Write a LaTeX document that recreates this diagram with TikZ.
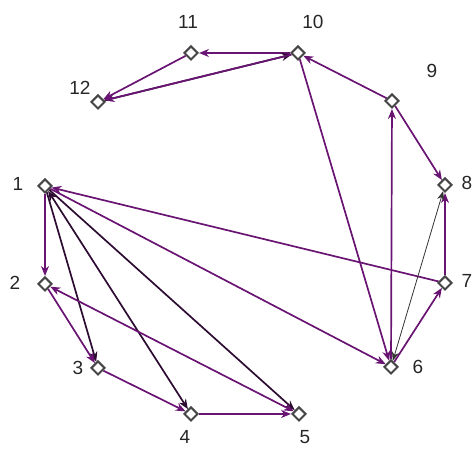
\documentclass[tikz,border=0pt]{standalone}
\usepackage{fontspec}
\setmainfont{Liberation Sans}
\usetikzlibrary{shapes.geometric,arrows.meta,backgrounds}
\definecolor{pur}{RGB}{105,20,115}
\definecolor{drk}{RGB}{45,12,50}
\definecolor{ndc}{RGB}{70,70,70}
\tikzset{
  vx/.style={diamond,draw=ndc,fill=white,line width=2pt,minimum size=14pt,inner sep=0pt},
  lab/.style={font=\fontsize{19}{19}\selectfont,text=black!85,inner sep=0pt},
  pe/.style={draw=pur,line width=1.7pt,-{Stealth[length=10pt,width=8pt]}},
  de/.style={draw=drk,line width=1.7pt,-{Stealth[length=10pt,width=8pt]}},
  te/.style={draw=black!80,line width=0.8pt,-{Stealth[length=9pt,width=7pt]}},
  pbe/.style={draw=pur,line width=1.7pt,{Stealth[length=10pt,width=8pt]}-{Stealth[length=10pt,width=8pt]}},
  dbe/.style={draw=drk,line width=1.7pt,{Stealth[length=10pt,width=8pt]}-{Stealth[length=10pt,width=8pt]}},
  tbe/.style={draw=black!80,line width=0.8pt,{Stealth[length=9pt,width=7pt]}-{Stealth[length=9pt,width=7pt]}}
}
\begin{document}
\begin{tikzpicture}[x=1pt,y=-1pt]
\useasboundingbox (0,0) rectangle (475,449);
\node[vx] (n1) at (45,186) {};
\node[vx] (n2) at (45,284) {};
\node[vx] (n3) at (98,368) {};
\node[vx] (n4) at (191,414) {};
\node[vx] (n5) at (299,414) {};
\node[vx] (n6) at (391,367) {};
\node[vx] (n7) at (445,283) {};
\node[vx] (n8) at (445,185) {};
\node[vx] (n9) at (392,101) {};
\node[vx] (n10) at (298,53) {};
\node[vx] (n11) at (191,53) {};
\node[vx] (n12) at (98,102) {};
\begin{scope}[on background layer]
\draw[pe] (n1) -- (n2);
\draw[de] (n1) -- (n3);
\draw[pe] (n2) -- (n3);
\draw[dbe] (n1) -- (n4);
\draw[de] (n1) -- (n5);
\draw[pbe] (n2) -- (n5);
\draw[pe] (n3) -- (n4);
\draw[pe] (n4) -- (n5);
\draw[pe] (n1) -- (n6);
\draw[pe] (n7) -- (n1);
\draw[pe] (n6) -- (n7);
\draw[pe] (n7) -- (n8);
\draw[tbe] (n6) -- (n8);
\draw[pe] (n6) -- (n9);
\draw[pe] (n9) -- (n8);
\draw[pe] (n9) -- (n10);
\draw[pe] (n10) -- (n6);
\draw[pe] (n10) -- (n11);
\draw[pe] (n11) -- (n12);
\draw[de] (n12) -- (n10);
\draw[pe] (n10) -- (n12);
\end{scope}
% labels
\node[lab] (l1) at (18,184) {1};
\node[lab] (l2) at (15,283) {2};
\node[lab] (l3) at (78,368) {3};
\node[lab] (l4) at (185,437) {4};
\node[lab] (l5) at (305,437) {5};
\node[lab] (l6) at (418,367) {6};
\node[lab] (l7) at (467,281) {7};
\node[lab] (l8) at (467,183) {8};
\node[lab] (l9) at (432,71) {9};
\node[lab] (l10) at (313,22) {10};
\node[lab] (l11) at (188,22) {11};
\node[lab] (l12) at (80,88) {12};
\end{tikzpicture}
\end{document}
